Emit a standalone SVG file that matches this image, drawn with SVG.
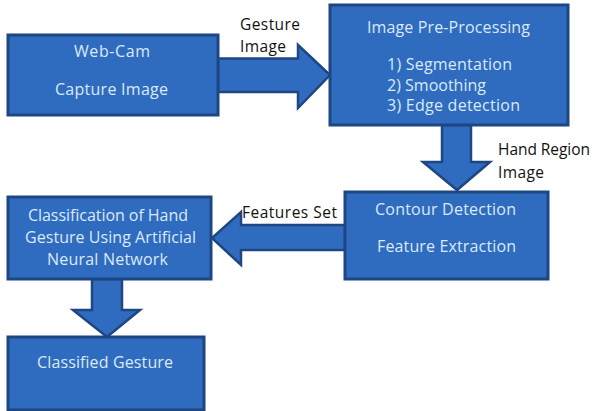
<svg xmlns="http://www.w3.org/2000/svg" width="594" height="411" viewBox="0 0 594 411">
<style>
.box{fill:#2f6cbf;stroke:#1d4682;stroke-width:3}
.arr{fill:#2f6cbf;stroke:#1d4682;stroke-width:2.5;stroke-linejoin:miter}
.t{font-family:"Open Sans","Liberation Sans",sans-serif;font-size:16px;fill:#dbe9f8}
.l{font-family:"Open Sans","Liberation Sans",sans-serif;font-size:15.5px;fill:#111}
</style>
<rect width="594" height="411" fill="#fff"/>
<g id="connectors">
<polygon class="arr" points="218,58.5 298,58.5 298,45 330,75 298,108 298,92 218,92"/>
<polygon class="arr" points="442,125 471,125 471,162 490,162 457,190 423,162 442,162"/>
<polygon class="arr" points="345,225 241,225 241,212 212,238 241,265 241,250 345,250"/>
<polygon class="arr" points="92,279 122,279 122,310 140,310 107,337 73,310 92,310"/>
<text class="l" x="240" y="30" textLength="60">Gesture</text>
<text class="l" x="240" y="52" textLength="46">Image</text>
<text class="l" x="498" y="155" textLength="92">Hand Region</text>
<text class="l" x="498" y="178" textLength="46">Image</text>
<text class="l" x="242" y="218" textLength="95">Features Set</text>
</g>
<g id="webcam">
<rect class="box" x="8" y="35" width="210" height="80"/>
<text class="t" x="74" y="57" textLength="76">Web-Cam</text>
<text class="t" x="55" y="95" textLength="113">Capture Image</text>
</g>
<g id="preprocessing">
<rect class="box" x="330" y="5" width="238" height="120"/>
<text class="t" x="367" y="33" textLength="163">Image Pre-Processing</text>
<text class="t" x="387" y="70" textLength="125">1) Segmentation</text>
<text class="t" x="387" y="91" textLength="99">2) Smoothing</text>
<text class="t" x="387" y="111" textLength="133">3) Edge detection</text>
</g>
<g id="contour">
<rect class="box" x="345" y="192" width="203" height="87"/>
<text class="t" x="375" y="215" textLength="141">Contour Detection</text>
<text class="t" x="377" y="252" textLength="139">Feature Extraction</text>
</g>
<g id="classification">
<rect class="box" x="8" y="197" width="203" height="82"/>
<text class="t" x="28" y="221" textLength="160">Classification of Hand</text>
<text class="t" x="25" y="243" textLength="171">Gesture Using Artificial</text>
<text class="t" x="47" y="265" textLength="121">Neural Network</text>
</g>
<g id="classified">
<rect class="box" x="8" y="337" width="196" height="73"/>
<text class="t" x="37" y="368" textLength="136">Classified Gesture</text>
</g>
</svg>
